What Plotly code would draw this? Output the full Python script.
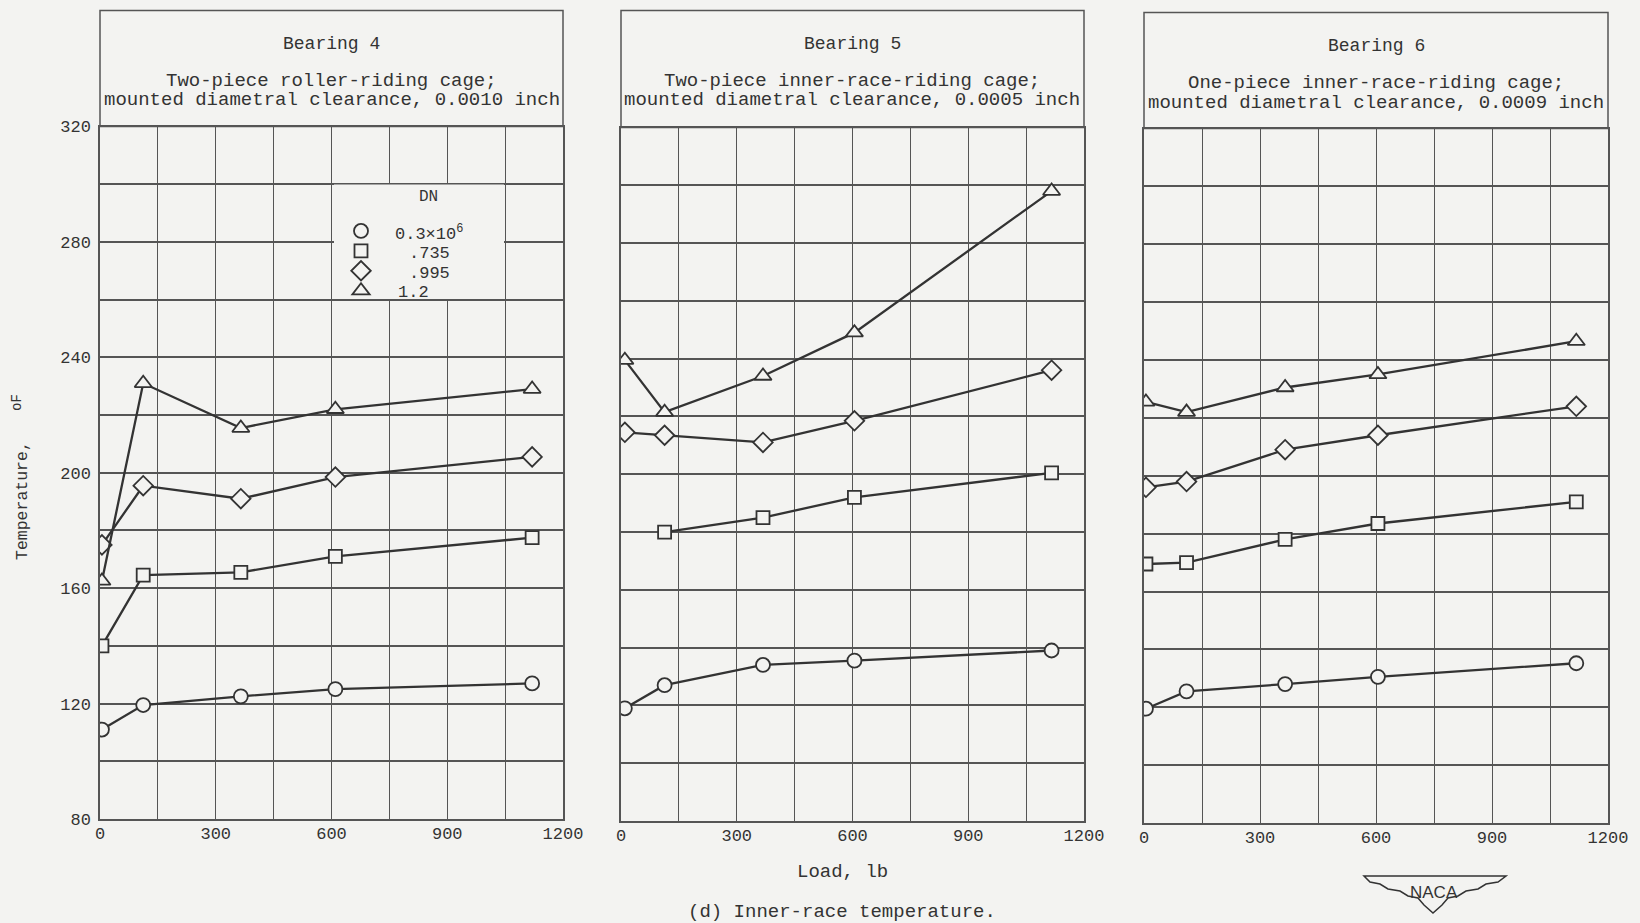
import plotly.graph_objects as go

# ---------------- data ----------------
dn_labels = ["0.3×10<sup>6</sup>", ".735", ".995", "1.2"]
dn_symbols = ["circle", "square", "diamond", "triangle-up"]

loads_b4 = [5, 112, 365, 610, 1120]
b4_03 = [111, 119.5, 122.5, 125, 127]
b4_0735 = [140, 164.5, 165.5, 171, 177.5]
b4_0995 = [175, 195.5, 191, 198.5, 205.5]
b4_12 = [162.5, 231, 215.5, 222, 229]

loads_b5 = [10, 113, 368, 605, 1116]
b5_03 = [119, 127, 134, 135.5, 139]
b5_0735 = [None, 180, 185, 192, 200.5]
b5_0995 = [214.5, 213.5, 211, 218.5, 236]
b5_12 = [239.5, 221.5, 234, 249, 298]

loads_b6 = [5, 110, 365, 605, 1118]
b6_03 = [119.5, 125.5, 128, 130.5, 135.2]
b6_0735 = [169.5, 170, 178, 183.5, 191]
b6_0995 = [196, 198, 209, 214, 224]
b6_12 = [225.5, 222, 230.5, 235, 246.5]

titles = ["Bearing 4", "Bearing 5", "Bearing 6"]
sub1 = ["Two-piece roller-riding cage;",
        "Two-piece inner-race-riding cage;",
        "One-piece inner-race-riding cage;"]
sub2 = ["mounted diametral clearance, 0.0010 inch",
        "mounted diametral clearance, 0.0005 inch",
        "mounted diametral clearance, 0.0009 inch"]
x_ticks = [0, 300, 600, 900, 1200]
y_ticks = [80, 120, 160, 200, 240, 280, 320]

panels = [
    (loads_b4, [b4_03, b4_0735, b4_0995, b4_12]),
    (loads_b5, [b5_03, b5_0735, b5_0995, b5_12]),
    (loads_b6, [b6_03, b6_0735, b6_0995, b6_12]),
]

# ---------------- style ----------------
W, H = 1640, 923
BG = "#f3f3f1"
INK = "#333333"
GRID = "#555555"
FONT = "Liberation Mono, Courier New, monospace"
SIZES = {"circle": 14, "square": 13, "diamond": 15, "triangle-up": 15}

def px(x):
    return x / W

def py(y):
    return 1 - y / H

x_dom = [(100, 563), (621, 1084), (1144, 1608)]
y_dom = [(126.5, 819), (127.5, 821), (128.5, 823)]
box_tops = [10.5, 10.5, 12.5]

fig = go.Figure()

for i, (loads, series) in enumerate(panels):
    xa = "x" if i == 0 else f"x{i+1}"
    ya = "y" if i == 0 else f"y{i+1}"
    for s, sym in zip(series, dn_symbols):
        fig.add_trace(go.Scatter(
            x=loads, y=s, mode="lines+markers", xaxis=xa, yaxis=ya,
            showlegend=False, connectgaps=False,
            line=dict(color=INK, width=2.3),
            marker=dict(symbol=sym, size=SIZES[sym], color=BG,
                        line=dict(color=INK, width=1.8)),
            hoverinfo="x+y"))

# legend symbols (labels are typed next to them as text)
for lab, sym in zip(dn_labels, dn_symbols):
    fig.add_trace(go.Scatter(
        x=[None], y=[None], mode="markers", name="\u00a0" * 15,
        marker=dict(symbol=sym, size=SIZES[sym], color=BG,
                    line=dict(color=INK, width=1.8)),
        showlegend=True))

layout = dict(
    width=W, height=H, autosize=False,
    margin=dict(l=0, r=0, t=0, b=0, pad=0),
    paper_bgcolor=BG, plot_bgcolor=BG,
    font=dict(family=FONT, size=17, color=INK),
    showlegend=True,
    legend=dict(
        x=px(341), y=py(216), xanchor="left", yanchor="top",
        bgcolor="rgba(0,0,0,0)", borderwidth=0,
        font=dict(family=FONT, size=13, color=INK),
        tracegroupgap=0, itemclick=False, itemdoubleclick=False,
    ),
)

shapes = []
annotations = []

def note(text, x, y, size=18, angle=0, family=FONT, xanchor="center"):
    annotations.append(dict(text=text, x=px(x), y=py(y), xref="paper", yref="paper",
                            xanchor=xanchor, yanchor="middle", showarrow=False,
                            textangle=angle, font=dict(family=family, size=size, color=INK)))

for i in range(3):
    sfx = "" if i == 0 else str(i + 1)
    x0, x1 = x_dom[i]
    yt, yb = y_dom[i]
    layout["xaxis" + sfx] = dict(
        domain=[px(x0), px(x1)], range=[0, 1200], automargin=False,
        tickmode="array", tickvals=x_ticks, ticktext=[str(v) for v in x_ticks],
        showgrid=True, gridcolor=GRID, gridwidth=1,
        minor=dict(dtick=150, tick0=0, showgrid=True, gridcolor=GRID, gridwidth=1),
        showline=True, mirror=True, linecolor=GRID, linewidth=1.5,
        ticks="", zeroline=False, ticklabelstandoff=-2,
        tickfont=dict(family=FONT, size=17, color=INK),
        anchor="y" + sfx, fixedrange=True,
    )
    layout["yaxis" + sfx] = dict(
        domain=[py(yb), py(yt)], range=[80, 320], automargin=False,
        tickmode="array", tickvals=y_ticks, ticktext=[str(v) for v in y_ticks],
        showticklabels=(i == 0),
        showgrid=True, gridcolor=GRID, gridwidth=2,
        minor=dict(dtick=20, tick0=80, showgrid=True, gridcolor=GRID, gridwidth=2),
        showline=True, mirror=True, linecolor=GRID, linewidth=1.5,
        ticks="", zeroline=False, ticklabelstandoff=4,
        tickfont=dict(family=FONT, size=17, color=INK),
        anchor="x" + sfx, fixedrange=True,
    )
    # title box above each panel
    shapes.append(dict(type="rect", xref="paper", yref="paper",
                       x0=px(x0), x1=px(x1), y0=py(yt), y1=py(box_tops[i]),
                       line=dict(color=GRID, width=1.5), fillcolor="rgba(0,0,0,0)"))
    cx = (x0 + x1) / 2
    note(titles[i], cx, box_tops[i] + 33, size=18)
    note(sub1[i], cx, box_tops[i] + 71, size=19)
    note(sub2[i], cx, box_tops[i] + 90, size=19)

# legend backing box (hides grid under the key)
shapes.append(dict(type="rect", xref="paper", yref="paper", layer="above",
                   x0=px(334), x1=px(504), y0=py(299), y1=py(184.5),
                   line=dict(width=0), fillcolor=BG))
note("DN", 428, 197, size=16)
label_pos = [(393, 233), (407, 253), (407, 273), (396, 292)]
for lab, (lx, ly) in zip(dn_labels, label_pos):
    note(lab, lx, ly, size=17, xanchor="left")

# y-axis title: "Temperature, °F" with raised small "oF"
note("Temperature,", 22, 501, size=16.5, angle=-90)
note("oF", 17, 403, size=14, angle=-90)
note("Load, lb", 842, 872, size=19)
note("(d) Inner-race temperature.", 842, 912, size=19)

# NACA logo (decorative)
logo_pts = [(1364, 876), (1506, 876), (1498, 882), (1486, 884), (1478, 889),
            (1466, 891), (1458, 896), (1448, 898), (1442, 905), (1433, 913),
            (1424, 905), (1418, 898), (1408, 896), (1400, 891), (1388, 889),
            (1380, 884), (1370, 882)]
path = "M " + " L ".join(f"{px(x):.5f},{py(y):.5f}" for x, y in logo_pts) + " Z"
shapes.append(dict(type="path", xref="paper", yref="paper", path=path,
                   line=dict(color=INK, width=1.5), fillcolor="rgba(0,0,0,0)"))
note("NACA", 1434, 892, size=17, family="Liberation Sans Narrow, Arial Narrow, sans-serif")

layout["shapes"] = shapes
layout["annotations"] = annotations
fig.update_layout(**layout)

post = (
    "document.documentElement.style.margin='0';"
    "document.body.style.margin='0';document.body.style.padding='0';"
    "document.documentElement.style.overflow='hidden';"
    "var gd=document.getElementById('{plot_id}');"
    "gd.style.width='1640px';gd.style.height='923px';"
    "Plotly.relayout(gd,{width:1640,height:923});"
)
fig.write_html("out.html", config={"displayModeBar": False, "responsive": False},
               post_script=post)
